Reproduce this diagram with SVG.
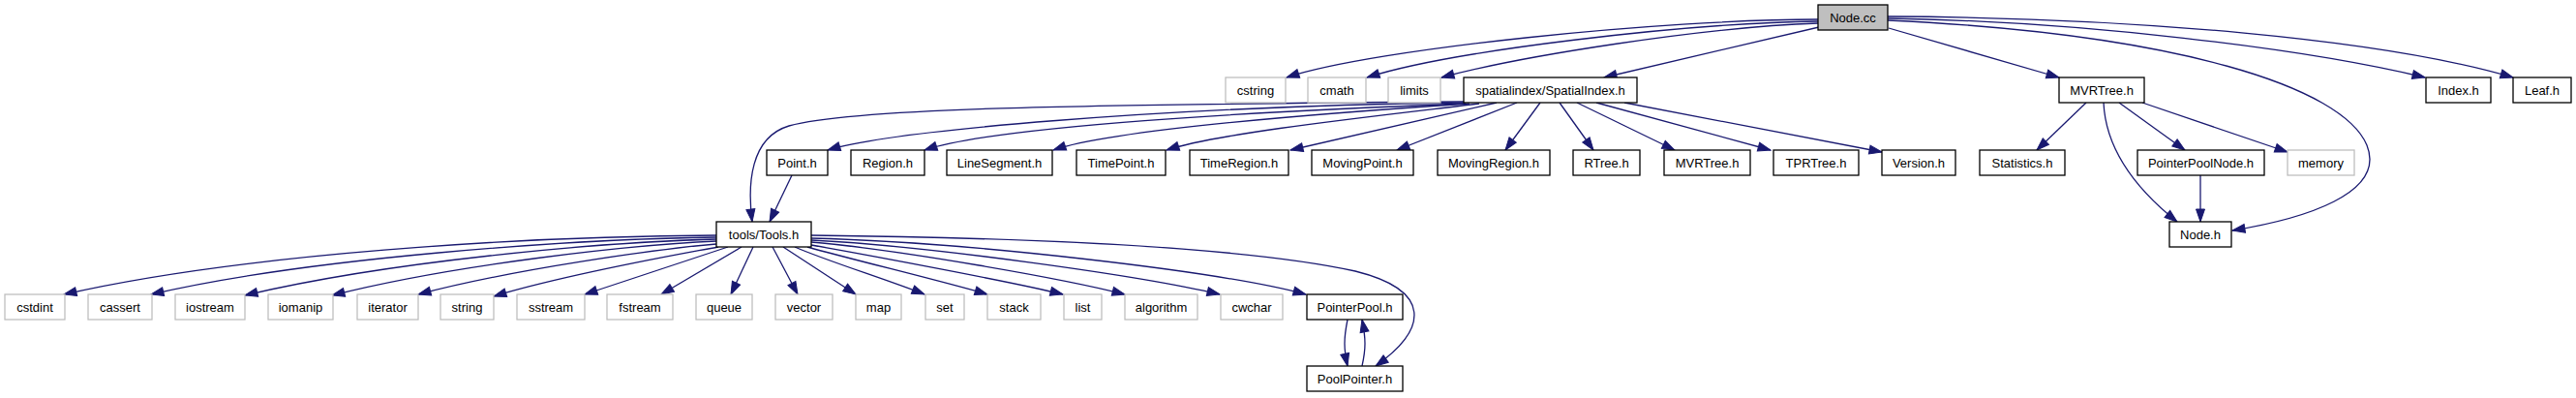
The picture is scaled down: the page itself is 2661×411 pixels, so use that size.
<svg xmlns="http://www.w3.org/2000/svg" width="2661" height="411" viewBox="0 0 2661 411">
<style>
rect{fill:#fff;stroke:#000;stroke-width:1.3}
.x rect{stroke:#bfbfbf}
.r rect{fill:#bfbfbf}
text{font-family:"Liberation Sans",Arial,sans-serif;font-size:13px;text-anchor:middle;fill:#000}
#edges path{fill:none;stroke:#191970;stroke-width:1.3;marker-end:url(#a)}
</style>
<defs>
<marker id="a" markerUnits="userSpaceOnUse" markerWidth="16" markerHeight="12" refX="13" refY="5" orient="auto" overflow="visible">
<path d="M0,0.5 L13,5 L0,9.5 z" fill="#191970" stroke="#191970" stroke-width="1"/>
</marker>
</defs>
<g id="edges">
<path d="M1878,20 C1720,20 1420,50 1329,80"/>
<path d="M1878,22 C1740,24 1500,52 1412,80"/>
<path d="M1878,24 C1760,28 1570,58 1489,80"/>
<path d="M1879,28 L1657,80"/>
<path d="M1951,29 L2127,80"/>
<path d="M1950,21 C2250,35 2420,90 2445,150 C2465,200 2380,226 2306,238"/>
<path d="M1950,19 C2150,22 2380,50 2505,80"/>
<path d="M1950,17 C2200,18 2460,40 2596,80"/>
<path d="M1512,105 C1100,108 880,112 815,130 C775,142 772,190 777,229"/>
<path d="M1513,106 C1200,110 920,135 855,155"/>
<path d="M1514,107 C1300,115 1030,130 955,155"/>
<path d="M1518,107 C1350,118 1150,134 1088,155"/>
<path d="M1528,107 C1420,120 1260,137 1205,155"/>
<path d="M1546,106 L1333,155"/>
<path d="M1567,106 L1443,155"/>
<path d="M1591,106 L1555,155"/>
<path d="M1611,106 L1646,155"/>
<path d="M1629,106 L1730,155"/>
<path d="M1649,106 L1829,155"/>
<path d="M1678,106 L1944,157"/>
<path d="M818,181 L795,229"/>
<path d="M2155,106 L2104,155"/>
<path d="M2173,106 C2175,150 2200,190 2249,229"/>
<path d="M2189,106 L2257,155"/>
<path d="M2213,106 L2363,157"/>
<path d="M2273,181 L2273,229"/>
<path d="M740,243 C540,244 250,262 66,304"/>
<path d="M740,245 C590,247 320,266 156,304"/>
<path d="M740,247 C620,250 400,270 253,305"/>
<path d="M740,249 C650,253 470,273 343,305"/>
<path d="M740,252 C680,257 530,278 432,304"/>
<path d="M742,255 C700,263 590,282 510,306"/>
<path d="M752,255 L604,304"/>
<path d="M766,255 L683,304"/>
<path d="M778,255 L755,304"/>
<path d="M798,255 L824,304"/>
<path d="M809,255 L884,304"/>
<path d="M821,255 C850,268 920,290 955,304"/>
<path d="M834,255 C880,268 980,292 1020,304"/>
<path d="M838,253 C900,264 1050,292 1098,304"/>
<path d="M838,250 C930,258 1100,288 1162,304"/>
<path d="M838,248 C960,254 1180,285 1260,304"/>
<path d="M838,246 C1000,250 1260,280 1349,304"/>
<path d="M838,243 C1100,246 1300,258 1400,280 C1480,300 1475,340 1421,378"/>
<path d="M1392,330 C1388,350 1388,360 1392,378"/>
<path d="M1407,378 C1411,360 1411,350 1407,330"/>
</g>
<g id="n_nodecc" class="r"><rect x="1878" y="5" width="72" height="26"/><text x="1914" y="23">Node.cc</text></g>
<g id="n_cstring" class="x"><rect x="1266" y="80" width="62" height="26"/><text x="1297" y="98">cstring</text></g>
<g id="n_cmath" class="x"><rect x="1351" y="80" width="60" height="26"/><text x="1381" y="98">cmath</text></g>
<g id="n_limits" class="x"><rect x="1434" y="80" width="54" height="26"/><text x="1461" y="98">limits</text></g>
<g id="n_spatialindex"><rect x="1512" y="80" width="179" height="26"/><text x="1601.5" y="98">spatialindex/SpatialIndex.h</text></g>
<g id="n_mvrtree1"><rect x="2127" y="80" width="88" height="26"/><text x="2171" y="98">MVRTree.h</text></g>
<g id="n_index"><rect x="2506" y="80" width="67" height="26"/><text x="2539.5" y="98">Index.h</text></g>
<g id="n_leaf"><rect x="2596" y="80" width="60" height="26"/><text x="2626" y="98">Leaf.h</text></g>
<g id="n_point"><rect x="792" y="155" width="63" height="26"/><text x="823.5" y="173">Point.h</text></g>
<g id="n_region"><rect x="879" y="155" width="76" height="26"/><text x="917" y="173">Region.h</text></g>
<g id="n_linesegment"><rect x="978" y="155" width="109" height="26"/><text x="1032.5" y="173">LineSegment.h</text></g>
<g id="n_timepoint"><rect x="1112" y="155" width="92" height="26"/><text x="1158" y="173">TimePoint.h</text></g>
<g id="n_timeregion"><rect x="1229" y="155" width="102" height="26"/><text x="1280" y="173">TimeRegion.h</text></g>
<g id="n_movingpoint"><rect x="1355" y="155" width="105" height="26"/><text x="1407.5" y="173">MovingPoint.h</text></g>
<g id="n_movingregion"><rect x="1485" y="155" width="116" height="26"/><text x="1543" y="173">MovingRegion.h</text></g>
<g id="n_rtree"><rect x="1625" y="155" width="69" height="26"/><text x="1659.5" y="173">RTree.h</text></g>
<g id="n_mvrtree2"><rect x="1719" y="155" width="89" height="26"/><text x="1763.5" y="173">MVRTree.h</text></g>
<g id="n_tprtree"><rect x="1832" y="155" width="88" height="26"/><text x="1876" y="173">TPRTree.h</text></g>
<g id="n_version"><rect x="1944" y="155" width="76" height="26"/><text x="1982" y="173">Version.h</text></g>
<g id="n_statistics"><rect x="2045" y="155" width="88" height="26"/><text x="2089" y="173">Statistics.h</text></g>
<g id="n_pointerpoolnode"><rect x="2208" y="155" width="131" height="26"/><text x="2273.5" y="173">PointerPoolNode.h</text></g>
<g id="n_memory" class="x"><rect x="2363" y="155" width="69" height="26"/><text x="2397.5" y="173">memory</text></g>
<g id="n_tools"><rect x="740" y="229" width="98" height="26"/><text x="789" y="247">tools/Tools.h</text></g>
<g id="n_nodeh"><rect x="2241" y="229" width="64" height="26"/><text x="2273" y="247">Node.h</text></g>
<g id="n_cstdint" class="x"><rect x="5" y="304" width="62" height="26"/><text x="36" y="322">cstdint</text></g>
<g id="n_cassert" class="x"><rect x="91" y="304" width="66" height="26"/><text x="124" y="322">cassert</text></g>
<g id="n_iostream" class="x"><rect x="181" y="304" width="72" height="26"/><text x="217" y="322">iostream</text></g>
<g id="n_iomanip" class="x"><rect x="277" y="304" width="67" height="26"/><text x="310.5" y="322">iomanip</text></g>
<g id="n_iterator" class="x"><rect x="369" y="304" width="63" height="26"/><text x="400.5" y="322">iterator</text></g>
<g id="n_string" class="x"><rect x="455" y="304" width="55" height="26"/><text x="482.5" y="322">string</text></g>
<g id="n_sstream" class="x"><rect x="534" y="304" width="70" height="26"/><text x="569" y="322">sstream</text></g>
<g id="n_fstream" class="x"><rect x="627" y="304" width="68" height="26"/><text x="661" y="322">fstream</text></g>
<g id="n_queue" class="x"><rect x="719" y="304" width="58" height="26"/><text x="748" y="322">queue</text></g>
<g id="n_vector" class="x"><rect x="801" y="304" width="59" height="26"/><text x="830.5" y="322">vector</text></g>
<g id="n_map" class="x"><rect x="884" y="304" width="47" height="26"/><text x="907.5" y="322">map</text></g>
<g id="n_set" class="x"><rect x="956" y="304" width="40" height="26"/><text x="976" y="322">set</text></g>
<g id="n_stack" class="x"><rect x="1020" y="304" width="55" height="26"/><text x="1047.5" y="322">stack</text></g>
<g id="n_list" class="x"><rect x="1099" y="304" width="39" height="26"/><text x="1118.5" y="322">list</text></g>
<g id="n_algorithm" class="x"><rect x="1162" y="304" width="75" height="26"/><text x="1199.5" y="322">algorithm</text></g>
<g id="n_cwchar" class="x"><rect x="1261" y="304" width="64" height="26"/><text x="1293" y="322">cwchar</text></g>
<g id="n_pointerpool"><rect x="1350" y="304" width="99" height="26"/><text x="1399.5" y="322">PointerPool.h</text></g>
<g id="n_poolpointer"><rect x="1350" y="378" width="99" height="26"/><text x="1399.5" y="396">PoolPointer.h</text></g>
</svg>
